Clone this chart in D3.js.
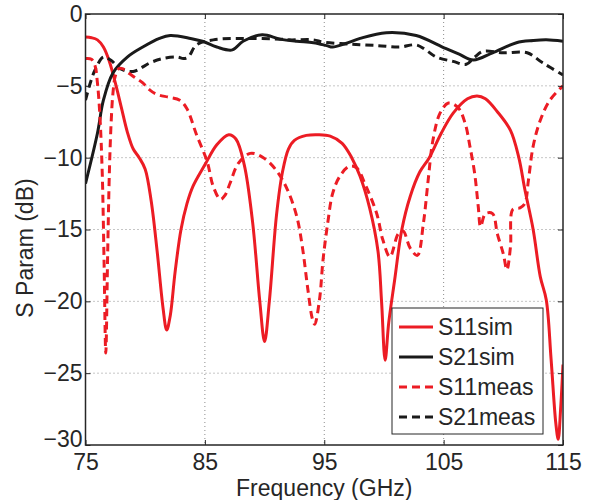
<!DOCTYPE html>
<html><head><meta charset="utf-8">
<script src="https://cdn.jsdelivr.net/npm/d3@7"></script>
<style>body{margin:0;background:#fff}svg{display:block}</style>
</head><body>
<svg id="c" width="600" height="500"></svg>
<script>
const xTicks = [75, 85, 95, 105, 115];
const yTicks = [0, -5, -10, -15, -20, -25, -30];
const seriesNames = ["S11sim", "S21sim", "S11meas", "S21meas"];

const s11simF = [75,75.5,76,76.5,77,77.5,78,78.5,79,79.5,80,80.5,81,81.5,81.8,82.1,82.5,83,83.5,84,85,86,87,87.6,88.3,89,89.6,90,90.4,91,91.5,92,92.5,93.5,94.5,95.5,96.5,97.3,98,98.8,99.5,99.8,100.1,100.4,100.9,101.5,102.2,103,103.8,104.8,105.8,107,107.8,108.5,109.5,110.6,111.3,111.8,112.5,113.1,113.6,114,114.4,114.6,114.8,115];
const s11simV = [-1.6,-1.65,-1.8,-2.3,-3.3,-4.8,-6.5,-8.2,-9.4,-10.0,-10.8,-13,-16.5,-20.5,-22,-21,-18,-15,-13.2,-12,-10.5,-9.1,-8.4,-8.7,-10.5,-14.5,-20,-22.8,-20,-14,-11,-9.4,-8.8,-8.45,-8.4,-8.5,-9.0,-10,-11.3,-13.5,-16.5,-20,-24.1,-21.5,-18.5,-15,-12.7,-11,-10,-8.3,-6.9,-5.9,-5.7,-5.9,-6.8,-8.1,-10,-12.2,-15,-18.3,-19.9,-24,-28.5,-29.6,-27.5,-24.4];

const s21simF = [75,76,76.5,77.3,78.5,79.8,81.2,82.1,83.8,84.8,86,87.3,88.2,89.8,91.3,92.7,94.1,95.2,95.7,96.8,98,100.2,102.7,104.9,106.3,107.5,109.1,111.1,112.5,113.6,115];
const s21simV = [-11.8,-8.3,-6.0,-4.1,-3.0,-2.3,-1.7,-1.5,-1.7,-1.9,-2.3,-2.5,-1.9,-1.45,-1.75,-1.9,-2.0,-2.2,-2.3,-2.05,-1.7,-1.3,-1.5,-2.3,-2.8,-3.2,-2.7,-2.0,-1.85,-1.8,-1.9];

const s11measF = [75,75.5,75.8,76.0,76.2,76.4,76.55,76.7,76.85,77.0,77.15,77.3,77.5,77.8,78.1,78.6,79.1,79.8,80.4,81,82,82.9,83.5,84.3,85.2,85.7,86.3,86.7,87.1,87.8,88.8,89.9,91,91.9,92.7,93.2,93.6,94.0,94.2,94.6,94.9,95.3,95.7,96.3,97.1,97.7,98.5,99.4,99.9,100.5,101.2,101.6,102.2,102.8,103.3,103.7,104.1,104.7,105.4,106.2,106.8,107.2,107.6,107.9,108.1,108.5,109.1,109.5,110,110.3,110.6,110.8,111.4,111.8,112.1,112.5,113.1,113.9,115];
const s11measV = [-3.1,-3.15,-3.6,-4.8,-7,-11,-17,-23.6,-17,-11,-7.5,-5.5,-4.3,-3.8,-3.8,-4.1,-4.4,-4.8,-5.3,-5.6,-5.8,-6.0,-6.6,-8.4,-10.3,-12,-12.9,-12.6,-11.8,-10.4,-9.7,-10,-10.9,-12.2,-14.1,-16.4,-19,-21.2,-21.6,-19.9,-17.1,-14.5,-12.5,-11.3,-10.6,-10.7,-12,-13.9,-15.7,-16.9,-15.3,-15.1,-16.3,-16.8,-14.6,-11.6,-8.8,-6.9,-6.2,-6.5,-7.6,-9.2,-11.1,-13.4,-14.8,-13.9,-13.9,-15.3,-16.7,-17.8,-16.2,-13.6,-13.5,-13.2,-11.6,-9.2,-7.4,-6.0,-5.0];

const s21measF = [75,75.4,75.8,76.5,77.1,77.9,79,80.4,81.5,82.7,83.2,83.6,84.3,85.7,88.5,91.3,92.1,94.1,94.9,97.2,99.5,101.3,102.7,103.5,104.4,105.8,106.9,107.6,108.3,110,112,113.3,115];
const s21measV = [-6.0,-4.8,-3.9,-3.0,-3.2,-3.8,-4.0,-3.4,-3.1,-3.0,-3.1,-3.0,-2.15,-1.8,-1.7,-1.75,-1.8,-1.8,-1.95,-2.1,-2.2,-2.3,-2.15,-2.5,-3.0,-3.3,-3.5,-3.0,-2.6,-2.7,-2.7,-3.4,-4.25];

const RED = "#ec1c24", BLK = "#1a1a1a";
const series = [
  {name: seriesNames[0], f: s11simF, v: s11simV, color: RED, dash: null},
  {name: seriesNames[1], f: s21simF, v: s21simV, color: BLK, dash: null},
  {name: seriesNames[2], f: s11measF, v: s11measV, color: RED, dash: "8,5"},
  {name: seriesNames[3], f: s21measF, v: s21measV, color: BLK, dash: "8,5"}
];

const L = 85.5, R = 563, T = 14, B = 445;
const FS = 23;
const svg = d3.select("#c");
const x = d3.scaleLinear().domain([75, 115]).range([L, R]);
const y = d3.scaleLinear().domain([-30, 0]).range([B, T]);
const font = "'Liberation Sans', Arial, sans-serif";

// grid
const g = svg.append("g");
g.selectAll(".gx").data(xTicks.slice(1, -1)).join("line")
  .attr("x1", d => x(d)).attr("x2", d => x(d)).attr("y1", T).attr("y2", B)
  .attr("stroke", "#8c8c8c").attr("stroke-width", 1).attr("stroke-dasharray", "1,3");
g.selectAll(".gy").data(yTicks.slice(1, -1)).join("line")
  .attr("y1", d => y(d)).attr("y2", d => y(d)).attr("x1", L).attr("x2", R)
  .attr("stroke", "#8c8c8c").attr("stroke-width", 1).attr("stroke-dasharray", "1,3");

// curves
svg.append("clipPath").attr("id", "clip").append("rect")
  .attr("x", L).attr("y", T - 2).attr("width", R - L).attr("height", B - T + 4);
const line = d3.line().curve(d3.curveCatmullRom.alpha(0.5));
const order = [0, 1, 3, 2];
const cg = svg.append("g").attr("clip-path", "url(#clip)");
order.forEach(i => {
  const s = series[i];
  cg.append("path")
    .attr("d", line(s.f.map((f, j) => [x(f), y(s.v[j])])))
    .attr("fill", "none").attr("stroke", s.color).attr("stroke-width", 3)
    .attr("stroke-dasharray", s.dash).attr("stroke-linejoin", "round");
});

// axes
const axB = svg.append("g").attr("transform", `translate(0,${B})`)
  .call(d3.axisBottom(x).tickValues(xTicks).tickSize(-5).tickPadding(9).tickFormat(d3.format("d")));
const axL = svg.append("g").attr("transform", `translate(${L},0)`)
  .call(d3.axisLeft(y).tickValues(yTicks).tickSize(-5).tickPadding(3).tickFormat(d => d < 0 ? "\u2212" + Math.abs(d) : d));
const axT = svg.append("g").attr("transform", `translate(0,${T})`)
  .call(d3.axisTop(x).tickValues(xTicks).tickSize(-5).tickFormat(""));
const axR = svg.append("g").attr("transform", `translate(${R},0)`)
  .call(d3.axisRight(y).tickValues(yTicks).tickSize(-5).tickFormat(""));
[axB, axL, axT, axR].forEach(a => {
  a.select(".domain").remove();
  a.selectAll("line").attr("stroke", "#262626").attr("stroke-width", 1);
  a.selectAll("text").attr("font-family", font).attr("font-size", FS).attr("fill", "#262626");
});
// lift the bottom y label slightly so it does not collide with the first x label
axL.selectAll(".tick").filter(d => d === -30).select("text").attr("dy", "0.05em");
svg.append("rect").attr("x", L).attr("y", T).attr("width", R - L).attr("height", B - T)
  .attr("fill", "none").attr("stroke", "#262626").attr("stroke-width", 1.5);

// titles
svg.append("text").attr("x", (L + R) / 2).attr("y", 496).attr("text-anchor", "middle")
  .attr("font-family", font).attr("font-size", FS).attr("fill", "#262626").text("Frequency (GHz)");
svg.append("text").attr("transform", `translate(33,248) rotate(-90)`)
  .attr("text-anchor", "middle").attr("font-family", font).attr("font-size", FS)
  .attr("fill", "#262626").text("S Param (dB)");

// legend
const lg = svg.append("g");
lg.append("rect").attr("x", 392).attr("y", 308).attr("width", 151).attr("height", 126)
  .attr("fill", "#fff").attr("stroke", "#262626").attr("stroke-width", 1);
series.forEach((s, i) => {
  const yy = 327 + i * 30;
  lg.append("line").attr("x1", 399).attr("x2", 433).attr("y1", yy).attr("y2", yy)
    .attr("stroke", s.color).attr("stroke-width", 3).attr("stroke-dasharray", s.dash);
  lg.append("text").attr("x", 438).attr("y", yy + 8).attr("font-family", font)
    .attr("font-size", FS).attr("fill", "#262626").text(s.name);
});
</script>
</body></html>
